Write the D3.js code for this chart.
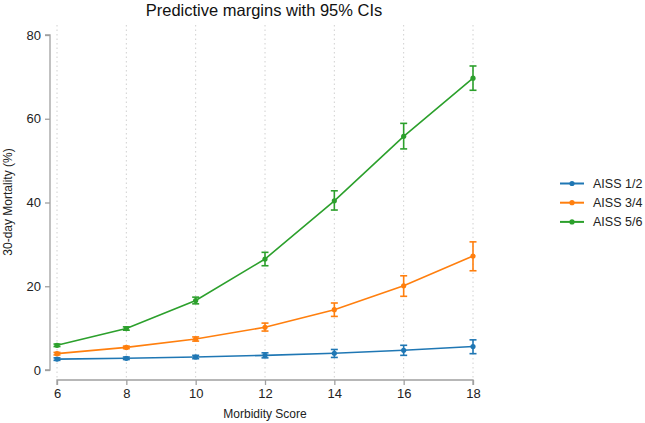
<!DOCTYPE html>
<html><head><meta charset="utf-8">
<script src="https://cdn.jsdelivr.net/npm/d3@7"></script>
<style>body{margin:0;background:#fff}svg{display:block;font-family:"Liberation Sans",Arial,sans-serif}</style>
</head><body><svg id="c" width="645" height="423"></svg>
<script>
const xValues = [6, 8, 10, 12, 14, 16, 18];
const seriesNames = ["AISS 1/2", "AISS 3/4", "AISS 5/6"];
const colors = ["#1f77b4", "#ff7f0e", "#2ca02c"];
const aiss12 = [2.6, 2.8, 3.1, 3.5, 4.0, 4.7, 5.6];
const aiss12Lo = [2.3, 2.5, 2.7, 2.9, 3.0, 3.5, 3.9];
const aiss12Hi = [2.9, 3.1, 3.5, 4.1, 4.9, 5.9, 7.2];
const aiss34 = [3.9, 5.4, 7.4, 10.2, 14.4, 20.1, 27.2];
const aiss34Lo = [3.6, 5.1, 6.9, 9.3, 12.8, 17.6, 23.7];
const aiss34Hi = [4.2, 5.7, 7.9, 11.2, 16.0, 22.5, 30.6];
const aiss56 = [5.9, 9.9, 16.6, 26.5, 40.4, 55.8, 69.7];
const aiss56Lo = [5.6, 9.5, 15.8, 24.9, 38.2, 52.8, 66.8];
const aiss56Hi = [6.2, 10.3, 17.4, 28.1, 42.8, 58.9, 72.6];
const yTicks = [0, 20, 40, 60, 80];

const series = [
  {name: seriesNames[0], v: aiss12, lo: aiss12Lo, hi: aiss12Hi, color: colors[0]},
  {name: seriesNames[1], v: aiss34, lo: aiss34Lo, hi: aiss34Hi, color: colors[1]},
  {name: seriesNames[2], v: aiss56, lo: aiss56Lo, hi: aiss56Hi, color: colors[2]}
];

const svg = d3.select("#c");
const x = d3.scaleLinear().domain([6, 18]).range([57, 473]);
const y = d3.scaleLinear().domain([0, 80]).range([370, 35]);

// grid
svg.append("g").selectAll("line").data(xValues).join("line")
  .attr("x1", d => x(d)).attr("x2", d => x(d))
  .attr("y1", 25).attr("y2", 380)
  .attr("stroke", "#d0d0d0").attr("stroke-width", 1).attr("stroke-dasharray", "1.5,3");

// y axis
const ya = svg.append("g").attr("transform", "translate(50,0)")
  .call(d3.axisLeft(y).tickValues(yTicks).tickSize(5).tickPadding(4));
// x axis
const xa = svg.append("g").attr("transform", "translate(0,380)")
  .call(d3.axisBottom(x).tickValues(xValues).tickSize(5).tickPadding(4));
[ya, xa].forEach(a => {
  a.select(".domain").attr("stroke", "#a0a0a0").attr("stroke-width", 1.3);
  a.selectAll(".tick line").attr("stroke", "#a0a0a0").attr("stroke-width", 1.3);
  a.selectAll(".tick text").attr("fill", "#222").style("font-size", "13px").style("font-family", "Liberation Sans, Arial, sans-serif");
});
ya.select(".domain").attr("d", "M-5,35H0V370H-5");
xa.select(".domain").attr("d", "M57,5V0H473V5");

// series
const line = d3.line().x((d, i) => x(xValues[i])).y(d => y(d));
series.forEach(s => {
  const g = svg.append("g");
  g.append("path").datum(s.v).attr("d", line).attr("fill", "none")
    .attr("stroke", s.color).attr("stroke-width", 1.6);
  const eb = g.selectAll(".eb").data(xValues).join("g");
  eb.append("line").attr("x1", d => x(d)).attr("x2", d => x(d))
    .attr("y1", (d, i) => y(s.lo[i])).attr("y2", (d, i) => y(s.hi[i]))
    .attr("stroke", s.color).attr("stroke-width", 1.6);
  eb.append("line").attr("x1", d => x(d) - 3.5).attr("x2", d => x(d) + 3.5)
    .attr("y1", (d, i) => y(s.lo[i])).attr("y2", (d, i) => y(s.lo[i]))
    .attr("stroke", s.color).attr("stroke-width", 1.6);
  eb.append("line").attr("x1", d => x(d) - 3.5).attr("x2", d => x(d) + 3.5)
    .attr("y1", (d, i) => y(s.hi[i])).attr("y2", (d, i) => y(s.hi[i]))
    .attr("stroke", s.color).attr("stroke-width", 1.6);
  g.selectAll("circle").data(s.v).join("circle")
    .attr("cx", (d, i) => x(xValues[i])).attr("cy", d => y(d)).attr("r", 2.6)
    .attr("fill", s.color);
});

// legend
const lg = svg.append("g");
series.forEach((s, i) => {
  const yy = 183.5 + i * 19.2;
  lg.append("line").attr("x1", 560).attr("x2", 584).attr("y1", yy).attr("y2", yy)
    .attr("stroke", s.color).attr("stroke-width", 2);
  lg.append("circle").attr("cx", 572).attr("cy", yy).attr("r", 2.6).attr("fill", s.color);
  lg.append("text").attr("x", 593).attr("y", yy + 4.5).text(s.name)
    .attr("fill", "#222").style("font-size", "12.5px");
});

// titles
svg.append("text").attr("x", 264).attr("y", 16).attr("text-anchor", "middle")
  .style("font-size", "16.5px").attr("fill", "#111").text("Predictive margins with 95% CIs");
svg.append("text").attr("x", 265).attr("y", 418).attr("text-anchor", "middle")
  .style("font-size", "12px").attr("fill", "#222").text("Morbidity Score");
svg.append("text").attr("transform", "translate(12,202) rotate(-90)").attr("text-anchor", "middle")
  .style("font-size", "12px").attr("fill", "#222").text("30-day Mortality (%)");
</script></body></html>
